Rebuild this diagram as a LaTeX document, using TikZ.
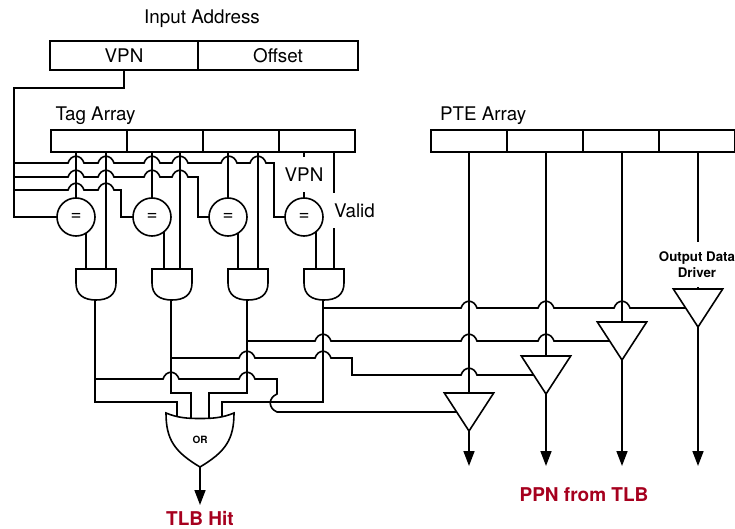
\documentclass[tikz,border=0pt]{standalone}
\usepackage{fontspec}
\setmainfont{TeX Gyre Heros}
\usetikzlibrary{arrows.meta, positioning, shapes.geometric}
\definecolor{hitred}{HTML}{A6001E}
\newcommand{\hops}[2]{foreach \x in {#1} { -- ({\x-8},#2) .. controls ({\x-5},{#2-9}) and ({\x+5},{#2-9}) .. ({\x+8},#2) }}

\begin{document}
\begin{tikzpicture}[
  x=1pt, y=-1pt,
  every node/.style={inner sep=0pt, outer sep=0pt, line width=1.6pt, font=\fontsize{18.8}{22}\selectfont},
  wire/.style={line width=1.6pt},
  arrow/.style={-{Triangle[length=15pt, width=11pt]}, line width=1.6pt},
  cell/.style={draw, minimum width=76pt, minimum height=22pt},
  addrcell/.style={draw, minimum height=29pt},
  compare/.style={draw, circle, minimum size=38pt},
  buffer/.style={draw, isosceles triangle, isosceles triangle apex angle=66, shape border rotate=-90, minimum height=38pt},
  minilabel/.style={font=\fontsize{13.3}{16}\bfseries\selectfont, align=center},
  hitlabel/.style={font=\fontsize{19}{22}\bfseries\selectfont, text=hitred},
  andgate/.pic={
    \draw[wire] (-20,0) -- (20,0) -- (20,14) .. controls (20,26) and (12,31) .. (0,31) .. controls (-12,31) and (-20,26) .. (-20,14) -- cycle;
    \coordinate (-top) at (0,0);
    \coordinate (-out) at (-1,31);
  },
  orgate/.pic={
    \draw[wire] (-34,0) .. controls (-22,5) and (-12,5.5) .. (0,5.5) .. controls (12,5.5) and (22,5) .. (34,0)
      .. controls (34,27) and (25,39) .. (0,54) .. controls (-25,39) and (-34,27) .. (-34,0) -- cycle;
    \node[font=\fontsize{10}{12}\bfseries\selectfont] (-label) at (0,27) {OR};
    \coordinate (-a) at (-23,2.5);
    \coordinate (-b) at (-9,5);
    \coordinate (-c) at (9,5);
    \coordinate (-d) at (22,2.5);
    \coordinate (-out) at (0,54);
  },
]
\useasboundingbox (0,0) rectangle (735,529);

% Nodes
\node[anchor=base] (inputLabel) at (202,24) {Input Address};
\node[addrcell, minimum width=148pt] (addrVpn) at (124,55.5) {VPN};
\node[addrcell, minimum width=160pt, right=0pt of addrVpn] (addrOffset) {Offset};

\node[anchor=base west] (tagLabel) at (55.5,120.5) {Tag Array};
\node[cell] (tag1) at (89,141) {};
\node[cell, right=0pt of tag1] (tag2) {};
\node[cell, right=0pt of tag2] (tag3) {};
\node[cell, right=0pt of tag3] (tag4) {};

\node[anchor=base west] (pteLabel) at (440,120.5) {PTE Array};
\node[cell] (pte1) at (469,141) {};
\node[cell, right=0pt of pte1] (pte2) {};
\node[cell, right=0pt of pte2] (pte3) {};
\node[cell, right=0pt of pte3] (pte4) {};

\node[compare] (cmp1) at (76,217) {=};
\node[compare] (cmp2) at (152,217) {=};
\node[compare] (cmp3) at (228,217) {=};
\node[compare] (cmp4) at (304,217) {=};
\node[minimum height=35pt] (vpnLabel) at (304,175) {VPN};
\node[minimum height=35pt, minimum width=40pt] (validLabel) at (354.5,210.5) {Valid};

\pic (and1) at (96,269) {andgate};
\pic (and2) at (172,269) {andgate};
\pic (and3) at (248,269) {andgate};
\pic (and4) at (324,269) {andgate};
\pic (orHit) at (200,413) {orgate};

\node[buffer, anchor=apex] (buf1) at (469,431) {};
\node[buffer, anchor=apex] (buf2) at (546,394) {};
\node[buffer, anchor=apex] (buf3) at (622,360) {};
\node[buffer, anchor=apex] (buf4) at (698,327) {};
\node[minilabel, minimum height=45pt] (driverLabel) at (697,264.5) {Output Data\\Driver};

\coordinate (bus0) at (14,88);
\coordinate (bus1) at (14,163);
\coordinate (bus2) at (14,177);
\coordinate (bus3) at (14,190);
\coordinate (ppn1) at (469,466);
\coordinate (ppn2) at (546,466);
\coordinate (ppn3) at (622,466);
\coordinate (ppn4) at (698,466);
\coordinate (hitEnd) at (200,505);
\node[hitlabel, anchor=base] (hitLabel) at (200,525) {TLB Hit};
\node[hitlabel, anchor=base] (ppnLabel) at (584,501) {PPN from TLB};

% Arrows
\draw[wire] (addrVpn.south) |- (bus0) |- (cmp1.west);
\draw[wire] (bus1) \hops{76,106,152,180,229,258}{163} -- (274,163) |- (cmp4.west);
\draw[wire] (bus2) \hops{76,106,152,180}{177} -- (198,177) |- (cmp3.west);
\draw[wire] (bus3) \hops{76,106}{190} -- (121,190) |- (cmp2.west);

\foreach \i in {1,2,3} \draw[wire] (cmp\i.north |- tag\i.south) -- (cmp\i.north);
\foreach \i/\x in {1/106,2/180,3/258} \draw[wire] (tag\i.south -| \x,0) -- (\x,0 |- and\i-top);
\foreach \i/\a in {1/-58,2/-51,3/-58,4/-51} \draw[wire] (cmp\i.\a) -- (cmp\i.\a |- and\i-top);

\draw[wire] (vpnLabel.north |- tag4.south) -- (vpnLabel.north);
\draw[wire] (vpnLabel.south) -- (cmp4.north);
\draw[wire] (tag4.south -| 334,0) -- (334,0 |- validLabel.north);
\draw[wire] (334,0 |- validLabel.south) -- (334,0 |- and4-top);

\draw[wire] (and1-out) -- (and1-out |- 0,402) -| (orHit-a);
\draw[wire] (and2-out) -- (and2-out |- 0,393) -| (orHit-b);
\draw[wire] (and3-out) -- (and3-out |- 0,393) -| (orHit-c);
\draw[wire] (and4-out) -- (and4-out |- 0,402) -| (orHit-d);

\draw[wire] (and1-out |- 0,379) \hops{171,247}{379} -- (277,379) -- (277,394)
  .. controls (268,398) and (268,408) .. (277,412) -- (buf1.right side);
\draw[wire] (and2-out |- 0,358) \hops{247,323}{358} -- (352,358) -- (352,375) \hops{469}{375} -- (buf2.right side);
\draw[wire] (and3-out |- 0,341) \hops{323,469,546}{341} -- (buf3.right side);
\draw[wire] (and4-out |- 0,308) \hops{469,546,622}{308} -- (buf4.right side);

\draw[wire] (pte1.south -| buf1.lower side) -- (buf1.lower side);
\draw[wire] (pte2.south -| buf2.lower side) -- (buf2.lower side);
\draw[wire] (pte3.south -| buf3.lower side) -- (buf3.lower side);
\draw[wire] (pte4.south -| buf4.lower side) -- (buf4.lower side |- driverLabel.north);
\draw[wire] (buf4.lower side |- driverLabel.south) -- (buf4.lower side);

\draw[arrow] (buf1.apex) -- (ppn1);
\draw[arrow] (buf2.apex) -- (ppn2);
\draw[arrow] (buf3.apex) -- (ppn3);
\draw[arrow] (buf4.apex) -- (ppn4);
\draw[arrow] (orHit-out) -- (hitEnd);

\end{tikzpicture}
\end{document}
